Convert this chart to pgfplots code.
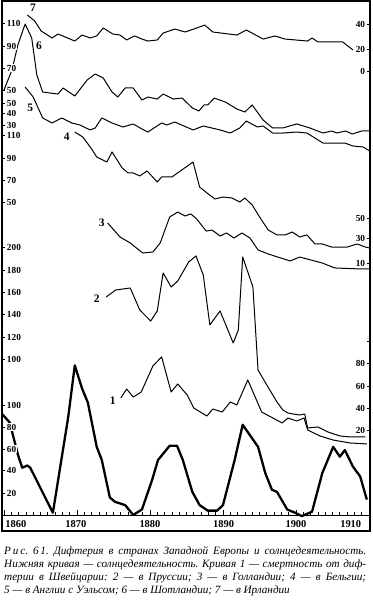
\documentclass[border=0pt]{standalone}
\usepackage{fontspec}
\setmainfont{Liberation Serif}
\usepackage{pgfplots}
\usepackage{pgfplotstable}
\pgfplotsset{compat=1.18}

% solar activity (Wolf numbers)
\pgfplotstableread{
year v
1859.45 94
1860.8 84
1861.9 55
1862.5 43
1863.2 45
1863.6 43
1866.7 2
1868.8 89
1869.7 136
1870.7 115
1871.5 102
1872.7 62
1873.4 50
1874.5 16
1875.2 12
1876.6 9
1877.7 0
1878.9 5
1880.3 32
1881.1 50
1882.7 63
1883.7 63
1884.5 50
1885.8 21
1886.8 9
1887.9 4
1889.2 4
1890.0 9
1891.6 50
1892.7 82
1894.8 62
1895.8 38
1896.7 23
1897.4 21
1898.8 5
1899.9 2
1900.8 -1
1902.2 3
1903.6 38
1905.1 62
1906.0 53
1906.7 59
1907.8 44
1908.8 35
1909.7 14
}\sun

% 1 Switzerland
\pgfplotstableread{
year v
1876.0 48.6
1876.8 56.7
1877.7 49.5
1878.8 54.0
1880.4 77.3
1881.6 85.4
1882.9 54.0
1883.8 61.2
1885.1 51.3
1886.0 39.7
1887.8 32.5
1888.6 38.8
1889.9 36.1
1891.0 45.1
1891.9 42.4
1893.4 64.8
1895.3 36.1
1898.1 26.3
1898.9 30.7
1900.1 28.1
1901.1 30.7
1901.6 20.0
1903.3 14.6
1905.1 11.0
1907.4 8.4
1909.7 7.5
}\swiss

% 2 Prussia
\pgfplotstableread{
year v
1874.0 155.4
1875.3 161.6
1877.3 163.4
1878.6 143.8
1880.1 133.9
1881.0 142.9
1881.8 176.8
1882.9 164.3
1883.8 169.6
1885.3 186.6
1886.3 192.0
1887.3 175.0
1888.2 130.4
1889.6 142.9
1891.4 114.3
1892.1 125.9
1892.7 191.1
1894.1 164.3
1894.8 90.2
1896.0 76.8
1897.4 61.6
1898.2 54.5
1898.9 51.8
1899.6 50.9
1900.5 50.0
1901.2 50.9
1901.6 38.4
1903.0 39.3
1904.4 34.8
1906.0 31.3
1907.4 30.4
1909.5 30.4
}\prussia

% 3 Holland
\pgfplotstableread{
year v
1874.2 45.6
1875.9 33.1
1877.3 27.8
1879.0 18.9
1880.4 19.8
1881.4 27.8
1882.7 50.9
1883.8 55.3
1884.8 51.8
1885.6 53.6
1886.4 49.1
1887.7 38.4
1888.5 39.3
1889.6 34.0
1890.5 36.7
1891.5 32.2
1892.6 36.7
1893.7 32.2
1894.8 21.6
1896.2 18.0
1899.2 11.8
1900.5 15.3
1903.6 10.0
1905.3 5.6
1908.8 4.7
1910.1 4.7
}\holland

% 4 Belgium
\pgfplotstableread{
year v
1869.7 112.7
1870.8 108.2
1872.1 96.6
1872.7 90.3
1874.1 85.8
1874.8 94.8
1876.2 80.4
1877.0 76.0
1877.7 76.0
1878.6 73.3
1879.6 77.8
1881.0 67.9
1881.6 72.4
1883.0 72.4
1885.9 85.8
1886.8 63.4
1887.8 58.1
1888.9 52.7
1890.0 54.5
1891.2 53.6
1892.3 50.0
1893.0 53.6
1894.0 47.3
1895.1 35.7
1896.2 24.9
1897.4 20.5
1898.5 20.5
1899.5 23.1
1900.5 18.7
1901.5 20.5
1902.6 12.4
1903.6 12.4
1904.9 9.7
1907.0 9.7
1908.4 12.4
1909.5 9.7
1910.1 8.8
}\belgium

% 5 England and Wales
\pgfplotstableread{
year v
1862.9 64.5
1864.0 55.5
1865.3 36.4
1866.6 31.8
1867.9 36.4
1869.3 31.8
1870.4 30.0
1871.8 25.5
1872.5 27.3
1873.4 36.4
1874.8 31.8
1876.3 28.2
1877.7 30.9
1878.9 26.4
1879.7 23.6
1881.6 31.8
1882.3 30.0
1883.4 32.7
1885.9 25.5
1887.3 29.1
1889.6 25.5
1891.0 22.7
1892.3 27.3
1893.2 33.6
1894.7 28.2
1895.5 29.1
1896.8 22.7
1898.2 22.7
1900.1 23.6
1901.5 22.7
1903.7 13.6
1906.7 13.6
1907.8 10.9
1909.2 10.0
1910.1 6.4
}\england

% 6 Scotland
\pgfplotstableread{
year v
1860.0 50.0
1861.1 67.9
1861.9 90.3
1862.9 109.1
1863.8 96.6
1864.5 63.4
1865.3 48.2
1866.3 47.3
1867.4 46.4
1868.1 51.8
1869.7 44.6
1871.4 59.0
1872.5 64.3
1873.6 60.7
1874.8 48.2
1875.6 43.7
1876.6 51.8
1877.7 51.8
1878.9 41.0
1879.7 43.7
1881.0 41.9
1881.8 46.4
1883.2 41.9
1884.4 42.8
1885.8 33.9
1886.7 31.2
1887.4 36.6
1887.9 36.6
1888.8 42.8
1890.3 39.3
1891.9 33.0
1893.0 30.3
1894.0 36.6
1895.5 23.1
1896.8 16.0
1898.2 16.0
1900.1 19.6
1901.9 16.0
1903.7 11.5
1904.9 13.3
1905.6 11.5
1906.8 13.3
1907.7 10.6
1909.0 13.3
1910.1 13.3
}\scotland

% 7 Ireland
\pgfplotstableread{
year v
1863.2 47.7
1864.2 42.6
1865.1 34.0
1866.6 28.1
1867.4 31.5
1868.4 28.9
1869.7 25.5
1870.7 30.6
1871.8 28.1
1872.7 29.8
1873.6 36.6
1874.9 31.5
1875.9 30.6
1876.8 26.4
1877.9 29.8
1878.9 27.2
1879.7 25.5
1881.0 26.4
1881.8 32.3
1883.4 35.7
1884.8 33.2
1886.0 35.7
1887.5 39.1
1888.6 33.2
1891.9 30.6
1893.2 34.9
1895.5 27.2
1897.1 29.8
1898.5 27.2
1901.6 25.5
1902.2 28.1
1903.0 24.7
1906.4 24.7
1907.8 17.9
}\ireland

\begin{document}
\frenchspacing
\begin{tikzpicture}
\pgfplotsset{
  base/.style={scale only axis, width=368bp, height=530bp,
    xmin=1859.73, xmax=1910.14, ymin=0, ymax=530},
  thin curve/.style={black, line width=1bp, line join=round, mark=none},
  lab/.style={font=\bfseries\fontsize{9.3}{9.3}\selectfont},
}
% main frame and curves
\begin{axis}[base, name=main,
  axis line style={black, line width=1.1bp},
  ytick=\empty,
  xtick={1861.64,1869.86,1880,1890.1,1900,1907.5},
  xticklabels={1860,1870,1880,1890,1900,1910},
  major tick length=0pt,
  xticklabel style={anchor=base, yshift=3.2bp, inner sep=0pt,
    font=\bfseries\fontsize{10.5}{10.5}\selectfont},
]
\addplot[thin curve] table[x=year, y expr=460+1.175*\thisrow{v}] {\ireland};
\addplot[thin curve] table[x=year, y expr=441+1.117*(\thisrow{v}-50)] {\scotland};
\addplot[thin curve] table[x=year, y expr=428+1.1*(\thisrow{v}-50)] {\england};
\addplot[thin curve] table[x=year, y expr=329+1.117*(\thisrow{v}-50)] {\belgium};
\addplot[thin curve] table[x=year, y expr=268+1.125*(\thisrow{v}-10)] {\holland};
\addplot[thin curve] table[x=year, y expr=172+1.12*(\thisrow{v}-100)] {\prussia};
\addplot[thin curve] table[x=year, y expr=101+1.117*(\thisrow{v}-20)] {\swiss};
\addplot[black, line width=2.3bp, line join=round, mark=none] table[x=year, y expr=16+1.1*\thisrow{v}] {\sun};
\begin{scope}[every node/.style={font=\bfseries\fontsize{11.5}{11.5}\selectfont, inner sep=0pt}]
\node at (axis cs:1863.97,523) {7};
\node at (axis cs:1864.8,485) {6};
\node at (axis cs:1863.6,423) {5};
\node at (axis cs:1868.6,394) {4};
\node at (axis cs:1873.4,308) {3};
\node at (axis cs:1872.7,232) {2};
\node at (axis cs:1874.9,130) {1};
\end{scope}
\end{axis}
% x axis line with year ticks
\begin{axis}[scale only axis, width=368bp, height=514bp, at={(0,16bp)},
  xmin=1859.73, xmax=1910.14, ymin=0, ymax=514,
  hide y axis, axis x line*=bottom,
  axis line style={black, line width=1bp},
  xtick={1860,1870,...,1910}, xticklabels={},
  minor xtick={1861,1862,...,1909},
  tick align=inside, major tick length=5bp, minor tick length=3bp,
  tick style={black, line width=0.7bp},
]
\end{axis}
% left scale labels
\begin{axis}[base, hide x axis, axis y line*=left,
  axis line style={black, line width=1.1bp},
  ytick={508,485,463,441,428,418,406,396,373,351,329,284,261,239,217,194,172,126,104,82,61,38},
  yticklabels={110,90,70,50,50,40,30,110,90,70,50,200,180,160,140,120,100,100,80,60,40,20},
  tick align=inside, major tick length=3.5bp,
  tick style={black, line width=0.8bp},
  yticklabel style={anchor=west, xshift=4.2bp, fill=white, inner sep=0.6bp, lab},
]
\end{axis}
% right scale labels
\begin{axis}[base, hide x axis, axis y line*=right,
  axis line style={black, line width=1.1bp},
  ytick={507,482,460,313,293,268,190,168,145,123,101},
  yticklabels={40,20,0,50,30,10,{},80,60,40,20},
  tick align=inside, major tick length=3.5bp,
  tick style={black, line width=0.8bp},
  yticklabel style={anchor=east, xshift=-4.2bp, fill=white, inner sep=0.6bp, lab},
]
\end{axis}
% caption
\node[anchor=north west, inner sep=0pt, text width=362bp, align=justify,
  font=\itshape\fontsize{11.2}{13.3}\selectfont] at (2bp,-15bp)
 {Р\,и\,с. 6\,1. Дифтерия в странах Западной Европы и солнцедеятельность.\linebreak
  Нижняя кривая — солнцедеятельность. Кривая 1 — смертность от диф-\linebreak
  терии в Швейцарии: 2 — в Пруссии; 3 — в Голландии; 4 — в Бельгии;\linebreak
  5 — в Англии с Уэльсом; 6 — в Шотландии; 7 — в Ирландии};
\pgfresetboundingbox
\path (-2bp,-74bp) rectangle (371bp,531bp);
\end{tikzpicture}
\end{document}
